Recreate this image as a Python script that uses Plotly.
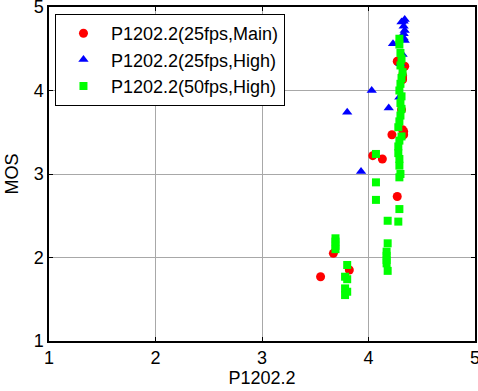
import plotly.graph_objects as go

# P1202.2 (25fps, Main)
main_x = [3.55, 3.82, 3.67, 4.04, 4.13, 4.22, 4.27, 4.31, 4.32, 4.33, 4.33, 4.32, 4.32, 4.34, 4.27, 4.32]
main_y = [1.77, 1.85, 2.05, 3.22, 3.18, 3.47, 2.73, 3.77, 3.53, 3.47, 3.51, 4.13, 4.18, 4.29, 4.35, 4.15]

# P1202.2 (25fps, High)
high25_x = [3.93, 3.80, 4.03, 4.19, 4.29, 4.23, 4.30, 4.32, 4.33, 4.34, 4.33, 4.31, 4.33, 4.34, 4.33, 4.34]
high25_y = [3.03, 3.74, 4.00, 3.79, 3.92, 4.56, 4.32, 4.43, 4.63, 4.60, 4.83, 4.82, 4.77, 4.72, 4.68, 4.85]

# P1202.2 (50fps, High)
high50_x = [4.29, 4.29, 4.30, 4.31, 4.30, 4.32, 4.31, 4.30, 4.29, 4.31, 4.30, 4.31, 4.30, 4.29,
            4.28, 4.31, 4.29, 4.28, 4.28, 4.29, 4.29, 4.30, 4.29, 4.29, 4.28,
            4.07, 4.07, 4.07, 4.18, 4.18, 4.17, 4.17, 4.17, 4.17, 4.18,
            3.69, 3.69, 3.69, 3.69, 3.80, 3.78, 3.80, 3.78, 3.80, 3.78]
high50_y = [4.62, 4.55, 4.45, 4.38, 4.30, 4.22, 4.15, 4.08, 4.00, 3.93, 3.85, 3.78, 3.70, 3.63,
            3.56, 3.45, 3.40, 3.33, 3.25, 3.18, 3.10, 3.00, 2.96, 2.58, 2.43,
            3.24, 2.90, 2.69, 2.44, 2.17, 2.07, 2.02, 1.97, 1.93, 1.84,
            2.23, 2.19, 2.14, 2.10, 1.91, 1.77, 1.74, 1.63, 1.59, 1.55]

x_ticks = [1, 2, 3, 4, 5]
y_ticks = [1, 2, 3, 4, 5]

FONT = "Liberation Sans, Arial, sans-serif"
FS = 18

fig = go.Figure()
fig.add_trace(go.Scatter(x=main_x, y=main_y, mode="markers", name="P1202.2(25fps,Main)",
                         marker=dict(symbol="circle", size=9, color="#ff0000")))
fig.add_trace(go.Scatter(x=high25_x, y=high25_y, mode="markers", name="P1202.2(25fps,High)",
                         marker=dict(symbol="triangle-up", size=9, color="#0000ff")))
fig.add_trace(go.Scatter(x=high50_x, y=high50_y, mode="markers", name="P1202.2(50fps,High)",
                         marker=dict(symbol="square", size=8, color="#00ff00")))

axis_common = dict(showline=True, linecolor="black", linewidth=1.5, mirror="ticks",
                   ticks="inside", ticklen=4, tickcolor="black",
                   showgrid=True, gridcolor="#a8a8a8", gridwidth=1, zeroline=False,
                   automargin=False, ticklabeloverflow="allow",
                   tickfont=dict(family=FONT, size=FS, color="black"))

fig.update_layout(
    width=478, height=391,
    margin=dict(l=49, r=3, t=7, b=50),
    paper_bgcolor="white", plot_bgcolor="white",
    font=dict(family=FONT, size=FS, color="black"),
    showlegend=True,
    legend=dict(x=0.014, y=0.979, xanchor="left", yanchor="top",
                bgcolor="white", bordercolor="black", borderwidth=1,
                itemwidth=45,
                font=dict(family=FONT, size=FS, color="black")),
    xaxis=dict(range=[1, 5], tickvals=x_ticks, ticktext=[str(v) for v in x_ticks],
               ticklabelstandoff=0,
               title=dict(text="P1202.2", standoff=0, font=dict(family=FONT, size=FS)),
               **axis_common),
    yaxis=dict(range=[1, 5], tickvals=y_ticks, ticktext=[str(v) for v in y_ticks],
               title=dict(text="MOS", standoff=10, font=dict(family=FONT, size=FS)),
               **axis_common),
)

fig.write_html("out.html", config={"displayModeBar": False},
               post_script="document.body.style.margin='0';document.body.style.overflow='hidden';")
